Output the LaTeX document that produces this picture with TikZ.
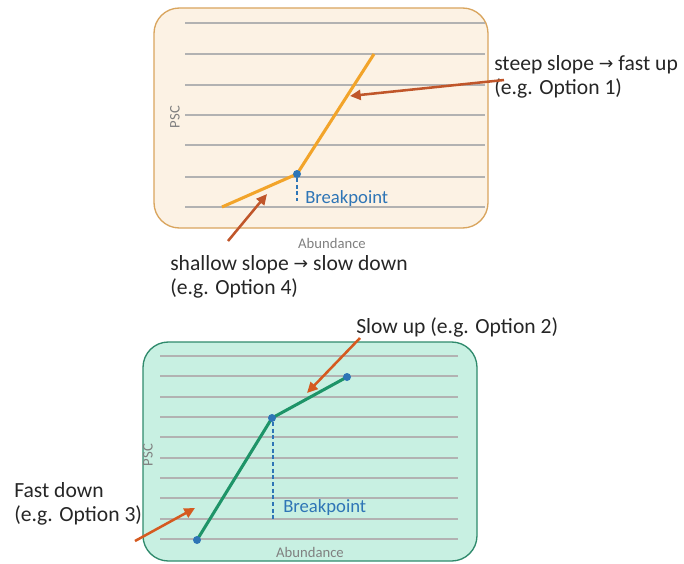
\documentclass[tikz,border=0pt]{standalone}
\usepackage{fontspec}
\setmainfont{Carlito}
\newfontfamily\symfont{DejaVu Sans}
\usepackage{xcolor}
\usetikzlibrary{arrows.meta}

\definecolor{boxorange}{HTML}{FCF2E4}
\definecolor{edgeorange}{HTML}{D9A55E}
\definecolor{boxgreen}{HTML}{C8F0E2}
\definecolor{edgegreen}{HTML}{2F8A6C}
\definecolor{lineorange}{HTML}{F2A42A}
\definecolor{linegreen}{HTML}{1E9468}
\definecolor{bpblue}{HTML}{2E75B6}
\definecolor{pointer}{HTML}{C0562A}
\definecolor{pointerb}{HTML}{D55A20}
\definecolor{txt}{HTML}{262626}

\newcommand{\rarr}{\raisebox{0.6pt}{\symfont\fontsize{13}{14}\selectfont\char"2192}}

\begin{document}
\begin{tikzpicture}[x=0.75pt,y=-0.75pt,
    panel/.style={rounded corners=19pt, line width=1pt},
    grid/.style={draw=black!30, line width=0.9pt},
    note/.style={font=\fontsize{16.2}{18}\selectfont, text=txt, align=left, inner sep=0pt},
    axis/.style={font=\fontsize{11}{12}\selectfont, text=black!50, inner sep=0pt},
    bp/.style={font=\fontsize{14}{16}\selectfont, text=bpblue, inner sep=0pt},
    dot/.style={circle, fill=bpblue, inner sep=0pt, minimum size=6pt},
    guide/.style={bpblue, line width=0.8pt, dash pattern=on 3pt off 2pt},
    pointto/.style={line width=1.9pt, -{Triangle[length=8pt,width=7.5pt]}}]
\useasboundingbox (0,0) rectangle (684,563);

% upper panel: steep then shallow
\draw[panel, fill=boxorange, draw=edgeorange] (154,8) rectangle (488,228);
\foreach \y in {23,54,85,115,145,177,207}
    \draw[grid] (185,\y) -- (485,\y);
\node[axis, rotate=90] (psctop) at (175,117) {PSC};
\node[axis] (abtop) at (332,243) {Abundance};

\coordinate (o1) at (222,207);
\coordinate (o2) at (374,54);
\coordinate (obp) at (297,174);
\draw[guide] (297,178) -- (297,201);
\node[bp, anchor=west] (bptop) at (305,199) {Breakpoint};
\draw[lineorange, line width=2.3pt] (o1) -- (obp) -- (o2);
\node[dot] (obpdot) at (obp) {};

\node[note, anchor=west] (steep) at (494,77) {steep slope \rarr{} fast up\\(e.g. Option 1)};
\node[note, anchor=west] (shallow) at (170,277) {shallow slope \rarr{} slow down\\(e.g. Option 4)};
\coordinate (steeptail) at (504,80);
\coordinate (steephead) at (350,96);
\coordinate (shallowtail) at (228,241);
\coordinate (shallowhead) at (267,194);
\draw[pointto, pointer] (steeptail) -- (steephead);
\draw[pointto, pointer] (shallowtail) -- (shallowhead);

% lower panel: fast then slow
\draw[panel, fill=boxgreen, draw=edgegreen] (143,342) rectangle (477,561);
\foreach \y in {356,376,397,417,437,458,478,498,519,539}
    \draw[grid] (160,\y) -- (458,\y);
\node[axis, rotate=90] (pscbot) at (148,455) {PSC};
\node[axis] (abbot) at (310,552) {Abundance};

\draw[guide] (273,422) -- (273,519);
\node[bp, anchor=west] (bpbot) at (283,508) {Breakpoint};
\coordinate (g1) at (197,540);
\coordinate (gbp) at (272,418);
\coordinate (g2) at (347,377);
\draw[linegreen, line width=2.3pt] (g1) -- (gbp) -- (g2);
\foreach \p in {g1,gbp,g2}
    \node[dot] (\p dot) at (\p) {};

\node[note, anchor=west] (slowup) at (356,327) {Slow up (e.g. Option 2)};
\node[note, anchor=west] (fastdown) at (14,504) {Fast down\\(e.g. Option 3)};
\coordinate (slowtail) at (360,338);
\coordinate (slowhead) at (307,393);
\coordinate (fasttail) at (135,541);
\coordinate (fasthead) at (195,508);
\draw[pointto, pointerb] (slowtail) -- (slowhead);
\draw[pointto, pointerb] (fasttail) -- (fasthead);
\end{tikzpicture}
\end{document}
